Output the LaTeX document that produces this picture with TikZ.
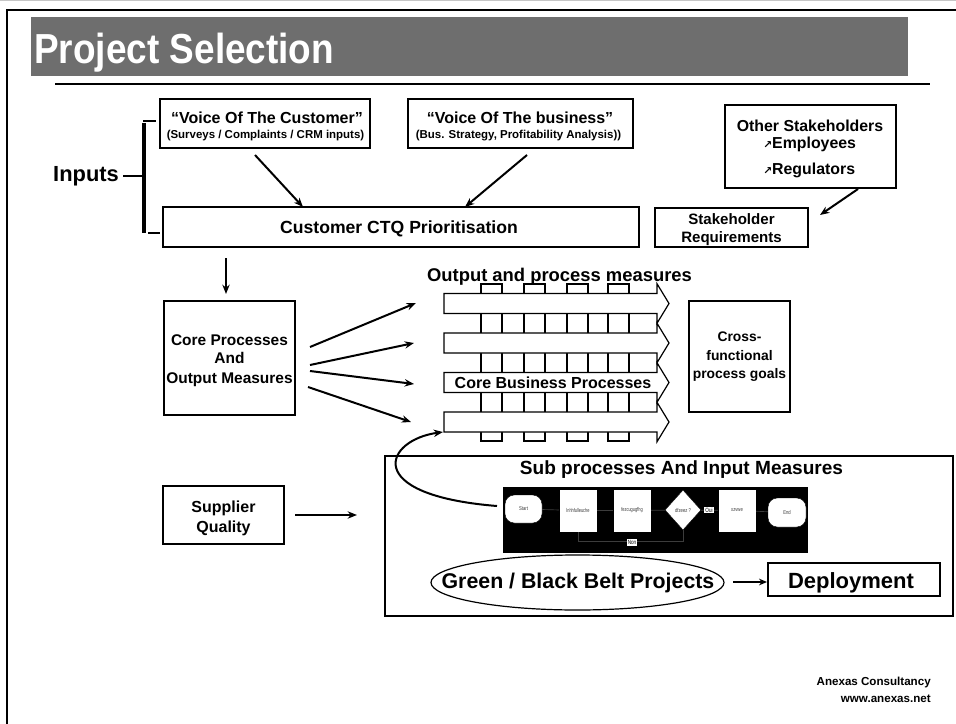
\documentclass[tikz,border=0pt]{standalone}
\usepackage{fontspec}
\setmainfont{Liberation Sans}
\newfontfamily\symfnt{DejaVu Sans}
\usetikzlibrary{shapes.geometric,arrows.meta}
\newcommand\myfs[2]{\fontsize{#1}{#2}\selectfont}
\definecolor{titlegray}{RGB}{110,110,110}
\definecolor{fcline}{RGB}{60,60,60}
\begin{document}
\begin{tikzpicture}[x=0.75pt,y=-0.75pt,
  box/.style={draw, line width=0.9pt, fill=white, inner sep=0pt},
  lbl/.style={anchor=base, inner sep=0pt, font=\bfseries},
  arr/.style={line width=1.5pt, -{Stealth[length=7pt,width=5.5pt]}},
  colbox/.style={draw, line width=0.9pt, fill=white},
  fc/.style={draw=black, fill=white, line width=0.3pt, inner sep=0pt, text=fcline, font=\myfs{4.2}{5}},
  fcl/.style={draw=fcline, line width=0.5pt},
]
\useasboundingbox (0,0) rectangle (956,724);
% frame
\coordinate (gl) at (0,1); \coordinate (gr) at (956,1);
\draw[gray!45, line width=0.75pt] (gl) -- (gr);
\coordinate (ftl) at (7,10); \coordinate (ftr) at (956,10); \coordinate (fbl) at (7,724);
\draw[line width=1.9pt] (ftr) -- (ftl) -- (fbl);
% title
\node[fill=titlegray, minimum width=657.75pt, minimum height=44.25pt, inner sep=0pt] (tbar) at (469.5,46.5) {};
\node[anchor=base west, inner sep=0pt, text=white, font=\bfseries\myfs{31.5}{36}] (title) at (34,64) {\scalebox{0.88}[1]{Project Selection}};
\coordinate (rl) at (55,84); \coordinate (rr) at (930,84);
\draw[line width=2pt] (rl) -- (rr);

% Inputs bracket
\node[lbl, font=\bfseries\myfs{16.4}{19}] (inputs) at (86,181.3) {Inputs};
\coordinate (id1) at (123,176); \coordinate (id2) at (144,176);
\coordinate (bt) at (144,123); \coordinate (bb) at (144,233);
\coordinate (tt1) at (143,121); \coordinate (tt2) at (156,121);
\coordinate (tb1) at (148,233); \coordinate (tb2) at (160,233);
\draw[line width=2.2pt] (id1) -- (id2);
\draw[line width=2.6pt] (bt) -- (bb);
\draw[line width=2.2pt] (tt1) -- (tt2);
\draw[line width=2.2pt] (tb1) -- (tb2);

% VOC / VOB
\node[box, minimum width=157.5pt, minimum height=36.75pt] (voc) at (265,123.5) {};
\node[lbl, font=\bfseries\myfs{12}{14}] (voc1) at (267,123.8) {“Voice Of The Customer”};
\node[lbl, font=\bfseries\myfs{8.6}{10}] (voc2) at (265.5,138.1) {(Surveys / Complaints / CRM inputs)};
\node[box, minimum width=168.75pt, minimum height=36.75pt] (vob) at (520.5,123.5) {};
\node[lbl, font=\bfseries\myfs{12}{14}] (vob1) at (520,123.8) {“Voice Of The business”};
\node[lbl, font=\bfseries\myfs{8.6}{10}] (vob2) at (518.5,138.1) {(Bus. Strategy, Profitability Analysis))};

% CTQ
\node[box, minimum width=357pt, minimum height=30pt] (ctq) at (401,227) {};
\node[lbl, font=\bfseries\myfs{13.2}{15}] (ctqt) at (399,233.3) {Customer CTQ Prioritisation};
\coordinate (a1s) at (255,155); \coordinate (a1e) at (303,207);
\coordinate (a2s) at (527,155); \coordinate (a2e) at (465,207);
\draw[arr] (a1s) -- (a1e);
\draw[arr] (a2s) -- (a2e);

% Other stakeholders
\node[box, minimum width=128.25pt, minimum height=62.25pt] (os) at (810.5,146.5) {};
\node[lbl, font=\bfseries\myfs{11.9}{14}] (os1) at (810,131.7) {Other Stakeholders};
\node[lbl, anchor=base west, font=\bfseries\myfs{11.9}{14}] (os2) at (763,148.7) {{\symfnt\myfs{8}{9}\raisebox{0.3pt}{↗}}Employees};
\node[lbl, anchor=base west, font=\bfseries\myfs{11.9}{14}] (os3) at (763,174.7) {{\symfnt\myfs{8}{9}\raisebox{0.3pt}{↗}}Regulators};
\node[box, minimum width=114.75pt, minimum height=29.25pt] (sr) at (731.5,227.5) {};
\node[lbl, font=\bfseries\myfs{11.3}{13}] (sr1) at (731.5,224.4) {Stakeholder};
\node[lbl, font=\bfseries\myfs{11.3}{13}] (sr2) at (731.5,242.4) {Requirements};
\coordinate (a3s) at (858,189); \coordinate (a3e) at (820,215);
\draw[arr] (a3s) -- (a3e);

% Core processes box
\coordinate (dns) at (226,258); \coordinate (dne) at (226,294);
\draw[arr] (dns) -- (dne);
\node[box, minimum width=98.25pt, minimum height=85.5pt] (core) at (229.5,358) {};
\node[lbl, font=\bfseries\myfs{11.6}{14}] (core1) at (229.5,345.6) {Core Processes};
\node[lbl, font=\bfseries\myfs{11.6}{14}] (core2) at (229.5,363.6) {And};
\node[lbl, font=\bfseries\myfs{11.6}{14}] (core3) at (229.5,383.6) {Output Measures};
\coordinate (c1s) at (310,347); \coordinate (c1e) at (416,303);
\coordinate (c2s) at (310,365); \coordinate (c2e) at (414,343);
\coordinate (c3s) at (310,371); \coordinate (c3e) at (414,384);
\coordinate (c4s) at (308,387); \coordinate (c4e) at (411,422);
\draw[arr] (c1s) -- (c1e);
\draw[arr] (c2s) -- (c2e);
\draw[arr] (c3s) -- (c3e);
\draw[arr] (c4s) -- (c4e);

% Output and process measures
\node[lbl, font=\bfseries\myfs{13.8}{16}] (opm) at (559.5,281.6) {Output and process measures};
\foreach \cx in {481,524,567,608} {
  \draw[colbox] (\cx,284) rectangle ++(21,157);
}
\foreach \cy in {303.5,343,382.5,422} {
  \draw[colbox] (444,\cy-10) -- (657,\cy-10) -- (657,\cy-19.75) -- (669,\cy)
     -- (657,\cy+19.75) -- (657,\cy+10) -- (444,\cy+10) -- cycle;
}
\node[lbl, font=\bfseries\myfs{12}{14}] (cbp) at (553,388.7) {Core Business Processes};

% Cross functional
\node[box, minimum width=75.75pt, minimum height=83.25pt] (cross) at (739.5,356.5) {};
\node[lbl, font=\bfseries\myfs{10.4}{12}] (cr1) at (739.5,341.2) {Cross-};
\node[lbl, font=\bfseries\myfs{10.4}{12}] (cr2) at (739.5,360.2) {functional};
\node[lbl, font=\bfseries\myfs{10.4}{12}] (cr3) at (739.5,378.2) {process goals};

% Supplier quality
\node[box, minimum width=90.75pt, minimum height=43.5pt] (sup) at (223.5,515) {};
\node[lbl, font=\bfseries\myfs{12}{14}] (sup1) at (223.5,512.8) {Supplier};
\node[lbl, font=\bfseries\myfs{12}{14}] (sup2) at (223.5,532.8) {Quality};
\coordinate (a4s) at (295,515); \coordinate (a4e) at (357,515);
\draw[arr] (a4s) -- (a4e);

% Sub processes box
\node[box, minimum width=426pt, minimum height=120pt] (subbox) at (669,536) {};
\node[lbl, font=\bfseries\myfs{14.3}{17}] (subt) at (681.5,474.8) {Sub processes And Input Measures};

% flowchart
\node[fill=black, minimum width=228.75pt, minimum height=49.5pt, inner sep=0pt] (fcbg) at (655.5,520) {};
\node[fc, rounded corners=7pt, minimum width=27.75pt, minimum height=21pt] (fstart) at (523.5,509) {\scalebox{0.75}[1]{Start}};
\node[fc, minimum width=28.5pt, minimum height=32.25pt] (fa) at (578,510.5) {\scalebox{0.7}[1]{lnhhfulleuche}};
\node[fc, minimum width=28.5pt, minimum height=32.25pt] (fb) at (632,510.5) {\scalebox{0.7}[1]{fezcugugfhg}};
\node[fc, diamond, minimum width=27pt, minimum height=30pt] (fd) at (683,510) {\scalebox{0.75}[1]{dfzeez ?}};
\node[fc, minimum width=28.5pt, minimum height=32.25pt] (fc3) at (737,510.5) {\scalebox{0.75}[1]{xzvwe}};
\node[fc, rounded corners=7pt, minimum width=28.5pt, minimum height=21.75pt] (fend) at (787,512.5) {\scalebox{0.75}[1]{End}};
\draw[fcl] (fstart) -- (fa);
\draw[fcl] (fa) -- (fb);
\draw[fcl] (fb) -- (fd);
\draw[fcl] (fd) -- (fc3);
\draw[fcl] (fc3) -- (fend);
\coordinate (lp1) at (683,541);
\draw[fcl] (fd.south) -- (lp1) -| (fa.south);
\node[fill=white, inner sep=0.8pt, text=black, font=\myfs{4.6}{5}] (oui) at (709,510) {\scalebox{0.75}[1]{Oui}};
\node[fill=white, inner sep=0.8pt, text=black, font=\myfs{4.6}{5}] (non) at (632,542.5) {\scalebox{0.75}[1]{Non}};

% curved arrow
\coordinate (cvs) at (497,506); \coordinate (cve) at (443,432);
\draw[arr] (cvs) .. controls (360,495) and (385,440) .. (cve);

% Green / Black belt + deployment
\node[draw, ellipse, line width=0.9pt, fill=white, inner sep=0pt, minimum width=219.75pt, minimum height=41.25pt] (gb) at (577.5,582.5) {};
\node[lbl, font=\bfseries\myfs{16}{19}] (gbt) at (578,588.5) {Green / Black Belt Projects};
\node[box, minimum width=129pt, minimum height=24.75pt] (dep) at (854,579.5) {};
\node[lbl, font=\bfseries\myfs{16.5}{19}] (dept) at (851,588.5) {Deployment};
\coordinate (a5s) at (733,582); \coordinate (a5e) at (767,582);
\draw[line width=1.1pt, -{Stealth[length=6pt,width=5pt]}] (a5s) -- (a5e);

% footer
\node[lbl, anchor=base east, font=\bfseries\myfs{8.7}{10}] (f1) at (931,685.2) {Anexas Consultancy};
\node[lbl, anchor=base east, font=\bfseries\myfs{8.7}{10}] (f2) at (931,702.2) {www.anexas.net};
\end{tikzpicture}
\end{document}
